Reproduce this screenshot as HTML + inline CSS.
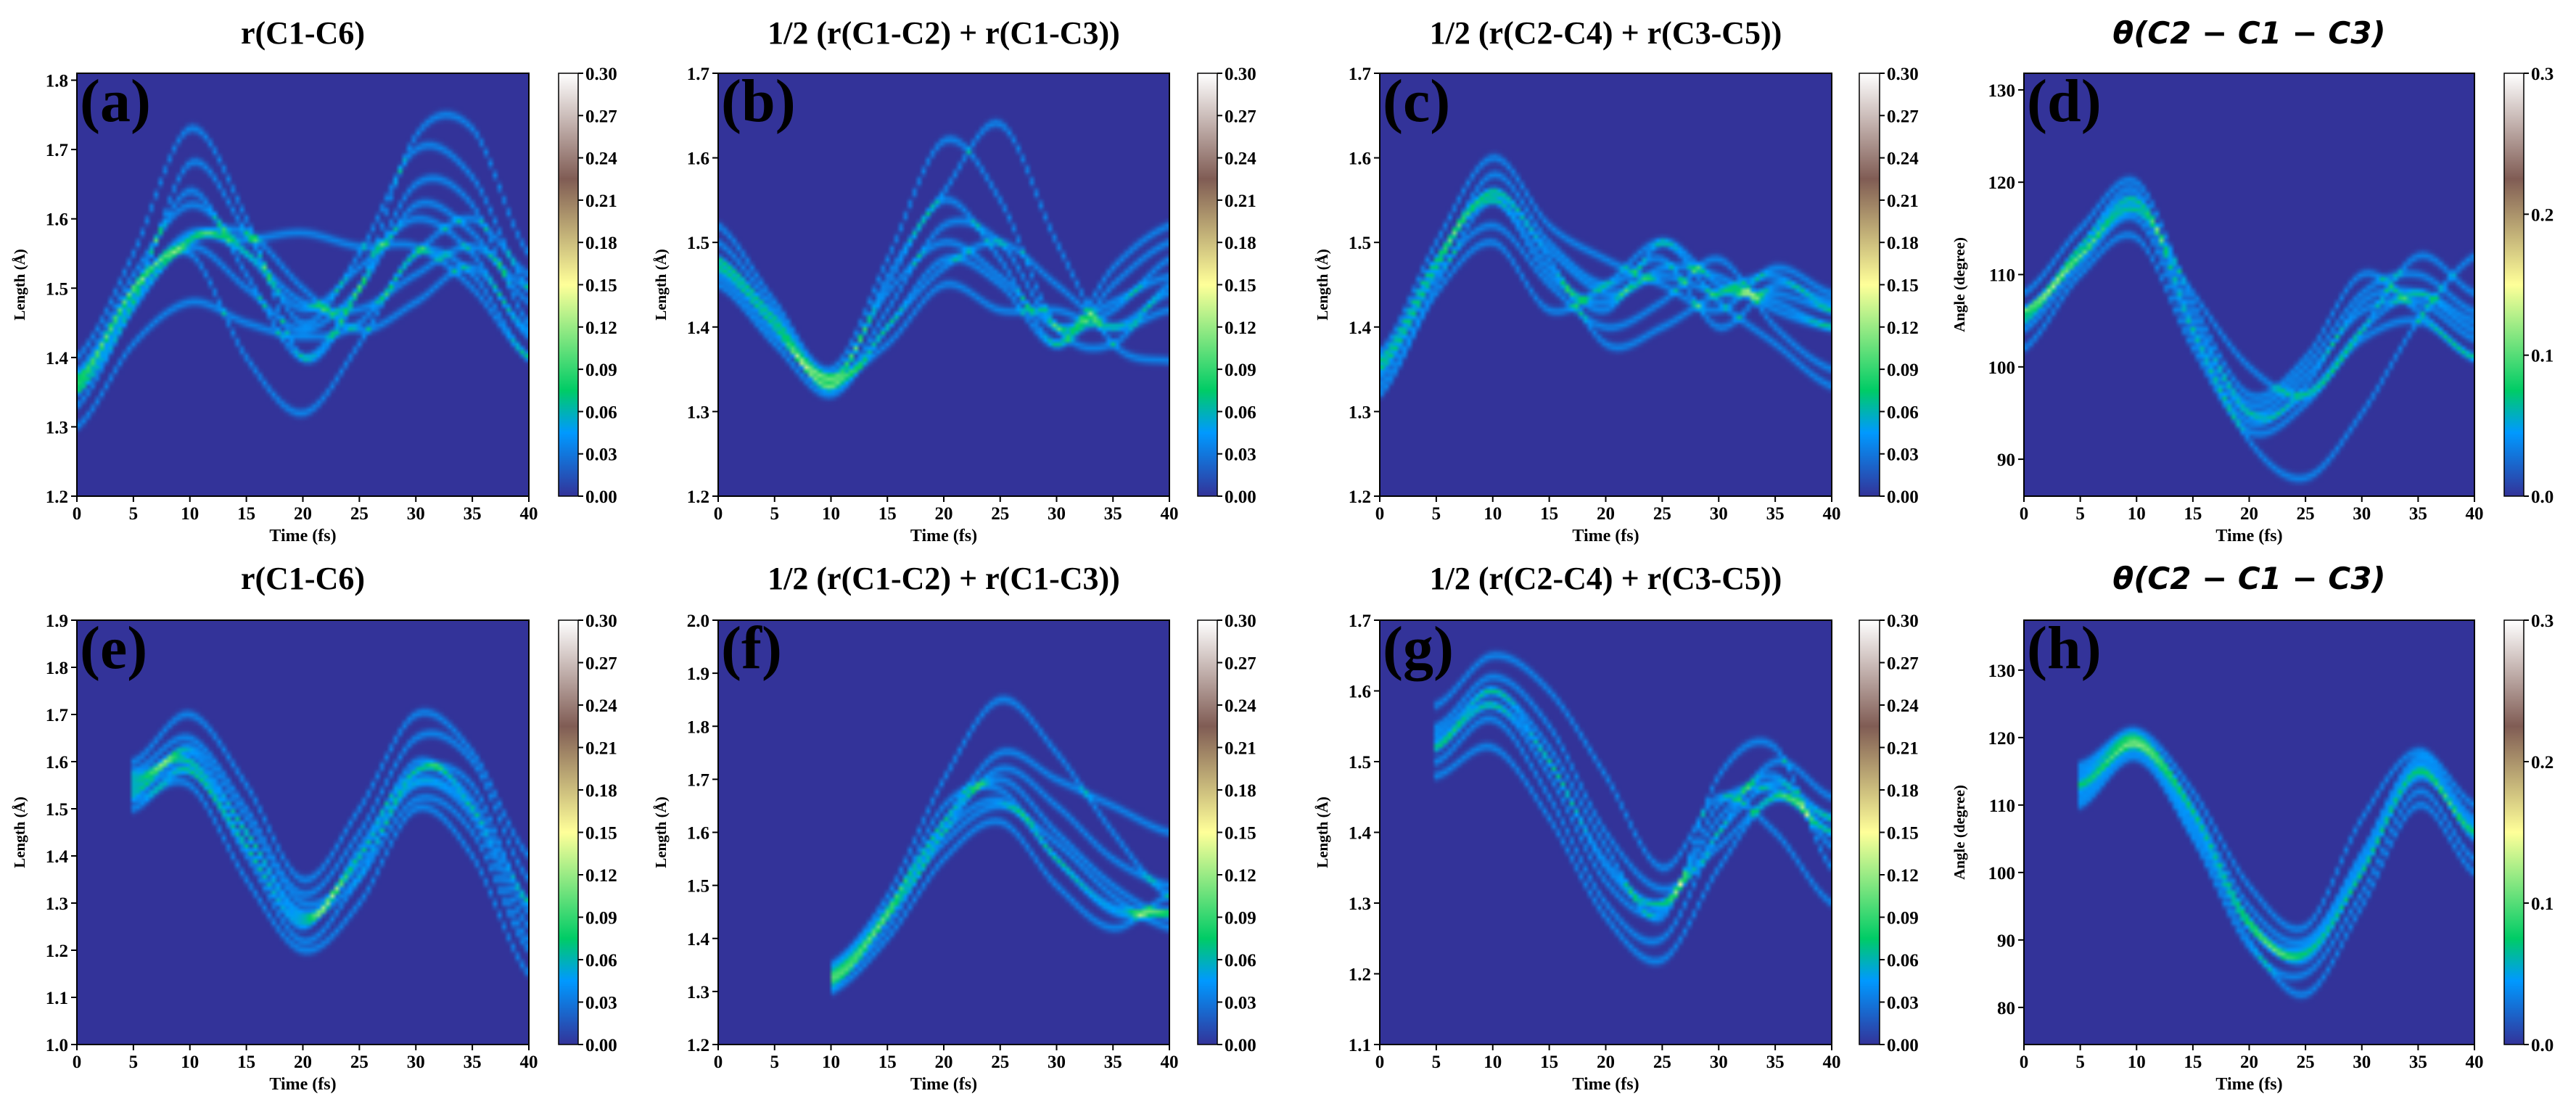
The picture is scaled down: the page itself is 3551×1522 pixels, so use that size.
<!DOCTYPE html>
<html><head><meta charset="utf-8">
<style>
html,body{margin:0;padding:0;background:#fff;}
#root{position:relative;width:3551px;height:1522px;overflow:hidden;background:#fff;}
canvas{position:absolute;image-rendering:auto;}
svg{position:absolute;left:0;top:0;}
</style></head>
<body>
<div id="root">
<svg id="ov" width="3551" height="1522"></svg>
</div>
<script>
// ---- data ----
const times = [0,5,10,15,20,25,30,35,40];
const panelLabels = ["(a)","(b)","(c)","(d)","(e)","(f)","(g)","(h)"];
const titles = ["r(C1-C6)","1/2 (r(C1-C2) + r(C1-C3))","1/2 (r(C2-C4) + r(C3-C5))","θ(C2 − C1 − C3)",
                "r(C1-C6)","1/2 (r(C1-C2) + r(C1-C3))","1/2 (r(C2-C4) + r(C3-C5))","θ(C2 − C1 − C3)"];
const yLabels = ["Length (Å)","Length (Å)","Length (Å)","Angle (degree)","Length (Å)","Length (Å)","Length (Å)","Angle (degree)"];
const yRanges = [[1.2,1.81],[1.2,1.7],[1.2,1.7],[86,131.8],[1.0,1.9],[1.2,2.0],[1.1,1.7],[74.5,137.4]];
const yTicks = [[1.2,1.3,1.4,1.5,1.6,1.7,1.8],[1.2,1.3,1.4,1.5,1.6,1.7],[1.2,1.3,1.4,1.5,1.6,1.7],[90,100,110,120,130],
                [1.0,1.1,1.2,1.3,1.4,1.5,1.6,1.7,1.8,1.9],[1.2,1.3,1.4,1.5,1.6,1.7,1.8,1.9,2.0],[1.1,1.2,1.3,1.4,1.5,1.6,1.7],[80,90,100,110,120,130]];
const xTicks = [0,5,10,15,20,25,30,35,40];
const cbTicksA = ["0.00","0.03","0.06","0.09","0.12","0.15","0.18","0.21","0.24","0.27","0.30"];
const cbTicksB = ["0.0","0.1","0.2","0.3"];
const trajA = [[1.35,1.48,1.68,1.58,1.45,1.55,1.70,1.66,1.50],[1.37,1.50,1.64,1.52,1.40,1.50,1.65,1.62,1.45],
  [1.33,1.47,1.57,1.57,1.58,1.56,1.56,1.50,1.40],[1.30,1.42,1.48,1.45,1.43,1.45,1.55,1.60,1.52],
  [1.40,1.55,1.73,1.60,1.40,1.50,1.72,1.73,1.55],[1.36,1.50,1.55,1.40,1.32,1.42,1.55,1.52,1.40],
  [1.38,1.52,1.62,1.55,1.47,1.53,1.60,1.55,1.43],[1.36,1.49,1.58,1.55,1.48,1.47,1.52,1.56,1.50],
  [1.35,1.48,1.56,1.50,1.44,1.50,1.62,1.58,1.48],[1.37,1.50,1.57,1.58,1.50,1.44,1.48,1.53,1.44]];
const trajB = [[1.50,1.42,1.34,1.45,1.55,1.48,1.38,1.45,1.50],[1.47,1.40,1.33,1.42,1.52,1.50,1.40,1.42,1.48],
  [1.52,1.43,1.35,1.48,1.62,1.55,1.40,1.38,1.45],[1.45,1.38,1.32,1.40,1.48,1.45,1.38,1.47,1.52],
  [1.48,1.41,1.33,1.46,1.56,1.64,1.50,1.38,1.36],[1.46,1.39,1.34,1.38,1.45,1.42,1.42,1.40,1.44],
  [1.48,1.41,1.34,1.44,1.50,1.46,1.40,1.43,1.46],[1.47,1.40,1.33,1.40,1.47,1.50,1.45,1.40,1.42]];
const trajC = [[1.35,1.47,1.58,1.50,1.45,1.48,1.40,1.45,1.43],[1.33,1.45,1.55,1.47,1.42,1.50,1.45,1.43,1.40],
  [1.37,1.50,1.60,1.52,1.48,1.45,1.42,1.47,1.44],[1.34,1.46,1.52,1.45,1.40,1.43,1.48,1.40,1.35],
  [1.36,1.48,1.56,1.48,1.38,1.40,1.44,1.46,1.42],[1.32,1.44,1.50,1.42,1.45,1.50,1.43,1.38,1.33],
  [1.35,1.47,1.56,1.49,1.44,1.46,1.44,1.44,1.42],[1.36,1.48,1.55,1.46,1.43,1.47,1.46,1.42,1.40]];
const trajD = [[106,113,118,105,96,100,108,110,106],[104,111,116,103,94,98,107,108,104],
  [108,115,120,107,97,101,110,106,101],[102,110,114,102,93,96,104,112,108],
  [106,112,117,108,100,97,103,105,101],[105,113,119,104,92,88,95,105,112],
  [106,112,118,106,95,97,104,108,105],[105,112,117,104,95,99,106,107,103]];
const trajE = [[null,1.55,1.62,1.45,1.27,1.40,1.60,1.50,1.25],[null,1.58,1.65,1.50,1.32,1.45,1.65,1.60,1.35],
  [null,1.50,1.58,1.40,1.22,1.35,1.52,1.45,1.20],[null,1.60,1.70,1.55,1.35,1.50,1.70,1.62,1.40],
  [null,1.52,1.55,1.35,1.20,1.30,1.50,1.40,1.15],[null,1.57,1.60,1.42,1.25,1.42,1.58,1.55,1.30],
  [null,1.53,1.63,1.48,1.30,1.38,1.55,1.48,1.22],[null,1.56,1.60,1.45,1.28,1.36,1.58,1.52,1.30],
  [null,1.54,1.58,1.42,1.26,1.40,1.56,1.50,1.28]];
const trajF = [[null,null,1.33,1.45,1.65,1.68,1.55,1.45,1.45],[null,null,1.32,1.42,1.60,1.72,1.65,1.55,1.50],
  [null,null,1.35,1.48,1.70,1.85,1.75,1.60,1.48],[null,null,1.30,1.40,1.55,1.62,1.50,1.42,1.48],
  [null,null,1.34,1.46,1.62,1.75,1.70,1.65,1.60],[null,null,1.31,1.44,1.58,1.65,1.58,1.48,1.42],
  [null,null,1.33,1.45,1.62,1.70,1.60,1.50,1.44],[null,null,1.32,1.44,1.60,1.66,1.55,1.46,1.45]];
const trajG = [[null,1.52,1.58,1.50,1.35,1.30,1.42,1.48,1.38],[null,1.55,1.62,1.55,1.40,1.32,1.38,1.45,1.42],
  [null,1.50,1.56,1.45,1.30,1.25,1.40,1.50,1.45],[null,1.58,1.65,1.60,1.48,1.35,1.45,1.40,1.30],
  [null,1.48,1.52,1.42,1.28,1.22,1.35,1.45,1.40],[null,1.54,1.60,1.52,1.38,1.28,1.48,1.52,1.35],
  [null,1.53,1.58,1.48,1.33,1.29,1.44,1.46,1.40],[null,1.52,1.60,1.50,1.36,1.30,1.40,1.47,1.42]];
const trajH = [[null,112,119,108,92,88,100,115,105],[null,115,120,110,95,90,103,117,108],
  [null,110,117,105,89,85,97,112,102],[null,116,121,112,98,92,108,118,110],
  [null,111,118,106,90,82,95,110,100],[null,113,119,109,93,87,100,114,106],
  [null,113,119,107,92,88,101,115,106],[null,114,120,109,93,89,102,116,107]];
const trajs = [trajA,trajB,trajC,trajD,trajE,trajF,trajG,trajH];

// ---- layout ----
const colX = [[106,729],[990,1612],[1902,2525],[2790,3411]];
const cbX = [[770,797],[1651,1678],[2563,2591],[3452,3479]];
const rowY = [[101,684],[855,1440]];
const titleY = [60,812];

const NS = "http://www.w3.org/2000/svg";
const ov = document.getElementById('ov');
const root = document.getElementById('root');
function mk(tag, attrs, parent){const e=document.createElementNS(NS,tag);for(const k in attrs)e.setAttribute(k,attrs[k]);(parent||ov).appendChild(e);return e;}

const cmStops=[[0,[51,51,153]],[0.15,[0,153,255]],[0.25,[0,204,102]],[0.5,[255,255,153]],[0.75,[128,92,84]],[1,[255,255,255]]];
function cmap(v){v=Math.max(0,Math.min(1,v));for(let i=1;i<cmStops.length;i++){if(v<=cmStops[i][0]){const a=cmStops[i-1],b=cmStops[i];const f=(v-a[0])/(b[0]-a[0]);return a[1].map((c,j)=>Math.round(c+(b[1][j]-c)*f));}}return [255,255,255];}
function interp(arr,t){
  const h=5;let i=Math.floor(t/h);if(i>=arr.length-1)i=arr.length-2;const f=(t-i*h)/h;
  const p1=arr[i],p2=arr[i+1];if(p1==null||p2==null)return null;
  const p0=arr[i-1]!=null&&i>0?arr[i-1]:p1, p3=arr[i+2]!=null&&i+2<arr.length?arr[i+2]:p2;
  return 0.5*((2*p1)+(-p0+p2)*f+(2*p0-5*p1+4*p2-p3)*f*f+(-p0+3*p1-3*p2+p3)*f*f*f);
}

for(let p=0;p<8;p++){
  const r=Math.floor(p/4), c=p%4;
  const [x0,x1]=colX[c],[y0,y1]=rowY[r];
  const [ymin,ymax]=yRanges[p];
  const xs=t=>x0+(t-0)/40*(x1-x0);
  const ys=v=>y1-(v-ymin)/(ymax-ymin)*(y1-y0);
  const nx=100, ny=110;
  const cv=document.createElement('canvas');
  
  
  cv.width=nx;cv.height=ny;
  cv.style.left=x0+'px';cv.style.top=y0+'px';cv.style.width=(x1-x0)+'px';cv.style.height=(y1-y0)+'px';
  root.insertBefore(cv,ov);
  const g=new Float32Array(nx*ny);
  const sig=0.8;
  trajs[p].forEach(tr=>{
    for(let ix=0;ix<nx;ix++){
      const t=(ix+0.5)/nx*40;const v=interp(tr,t);if(v==null)continue;
      const fy=(ymax-v)/(ymax-ymin)*ny;
      for(let iy=Math.max(0,Math.floor(fy-4));iy<Math.min(ny,fy+4);iy++){
        const d=(iy+0.5-fy)/sig;g[iy*nx+ix]+=0.035*Math.exp(-0.5*d*d);
      }
    }
  });
  const ctx=cv.getContext('2d');const img=ctx.createImageData(nx,ny);
  for(let k=0;k<nx*ny;k++){const col=cmap(g[k]/0.3);img.data[4*k]=col[0];img.data[4*k+1]=col[1];img.data[4*k+2]=col[2];img.data[4*k+3]=255;}
  ctx.putImageData(img,0,0);
  const fr=mk('rect',{x:x0,y:y0,width:x1-x0,height:y1-y0,fill:'none',stroke:'#000','stroke-width':2});
  
  
  const isT=titles[p].startsWith('θ');
  const tt=mk('text',{x:(x0+x1)/2,y:titleY[r],'text-anchor':'middle','font-size':isT?42:44,'font-weight':'bold','font-style':isT?'italic':'normal','font-family':isT?'"DejaVu Sans",sans-serif':'"Liberation Serif",serif'});
  tt.textContent=titles[p];
  
  
  const pl=mk('text',{x:x0+4,y:y0+66,'font-size':84,'font-weight':'bold','font-family':'"Liberation Serif",serif'});
  pl.textContent=panelLabels[p];
  
  
  xTicks.forEach(t=>{
    const X=xs(t);
    mk('line',{x1:X,x2:X,y1:y1,y2:y1+8,stroke:'#000','stroke-width':2});
    const lb=mk('text',{x:X,y:y1+32,'text-anchor':'middle','font-size':25,'font-weight':'bold','font-family':'"Liberation Serif",serif'});
    lb.textContent=t;
    
    
  });
  const xl=mk('text',{x:(x0+x1)/2,y:y1+62,'text-anchor':'middle','font-size':24,'font-weight':'bold','font-family':'"Liberation Serif",serif'});
  xl.textContent='Time (fs)';
  
  
  yTicks[p].forEach(v=>{
    const Y=ys(v);
    mk('line',{x1:x0-8,x2:x0,y1:Y,y2:Y,stroke:'#000','stroke-width':2});
    const lb=mk('text',{x:x0-12,y:Y+9,'text-anchor':'end','font-size':25,'font-weight':'bold','font-family':'"Liberation Serif",serif'});
    lb.textContent=(p===3||p===7)?v:v.toFixed(1);
    
    
  });
  const yx=x0-(p===3||p===7?82:72), yc=(y0+y1)/2;
  const yl=mk('text',{x:yx,y:yc,'text-anchor':'middle','font-size':21,'font-weight':'bold','font-family':'"Liberation Serif",serif',transform:`rotate(-90 ${yx} ${yc})`});
  yl.textContent=yLabels[p];
  
  
  const [c0,c1]=cbX[c];
  const gid='grad'+p;
  const gr=mk('linearGradient',{id:gid,x1:0,y1:1,x2:0,y2:0});
  cmStops.forEach(s=>mk('stop',{offset:s[0],'stop-color':`rgb(${s[1].join(',')})`},gr));
  const cb=mk('rect',{x:c0,y:y0,width:c1-c0,height:y1-y0,fill:`url(#${gid})`,stroke:'#000','stroke-width':1.5});
  
  
  const cbt=(c===3)?cbTicksB:cbTicksA;
  cbt.forEach((s,i)=>{
    const Y=y1-i/(cbt.length-1)*(y1-y0);
    mk('line',{x1:c1,x2:c1+7,y1:Y,y2:Y,stroke:'#000','stroke-width':2});
    const lb=mk('text',{x:c1+10,y:Y+9,'font-size':25,'font-weight':'bold','font-family':'"Liberation Serif",serif'});
    lb.textContent=s;
    
    
  });
}
</script>
</body></html>
